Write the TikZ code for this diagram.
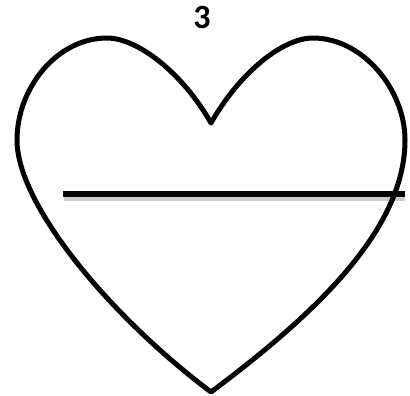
\documentclass[tikz,border=0pt]{standalone}
\usepackage{fontspec}
\newfontfamily\labelfont{Carlito}
\newcommand\numsize{\fontsize{34}{38}\selectfont}
\tikzset{
  heartline/.style={draw=black, line width=5pt, line join=round},
  barline/.style={draw=black, line width=5.5pt},
  barshadow/.style={draw=black, opacity=0.2, line width=5pt},
  titlelabel/.style={inner sep=0pt}
}
\begin{document}
\begin{tikzpicture}[x=1pt,y=-1pt]
\useasboundingbox (0,0) rectangle (410,396);
% heart
\path[heartline]
  (211,392) .. controls (111,317) and (17,205) .. (17,140)
  .. controls (17,88) and (57,38) .. (107,38)
  .. controls (137,38) and (182,72) .. (211,123)
  .. controls (240,72) and (283,38) .. (313,38)
  .. controls (363,38) and (405,90) .. (405,140)
  .. controls (405,225) and (325,307) .. (211,392) -- cycle;
% bar with shadow
\coordinate (sa) at (64,198.5);
\coordinate (sb) at (405,198.5);
\coordinate (la) at (63,194);
\coordinate (lb) at (405,194);
\draw[barshadow] (sa) -- (sb);
\draw[barline] (la) -- (lb);
% label
\node[titlelabel] (num) at (202,17) {\labelfont\bfseries\numsize 3};
\end{tikzpicture}
\end{document}
